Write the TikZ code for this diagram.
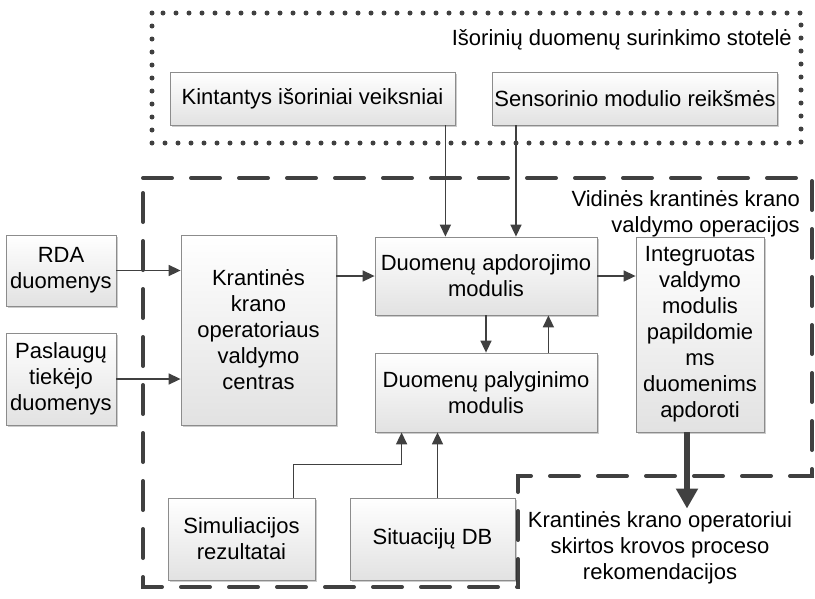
\documentclass[tikz,border=0pt]{standalone}
\usepackage{fontspec}
\setmainfont{Liberation Sans}
\usetikzlibrary{
  arrows.meta,
  calc,
  shadows
}
\definecolor{lineGray}{HTML}{404040}
\definecolor{boxGray}{HTML}{8C8C8C}
\definecolor{fillGray}{HTML}{E2E2E2}
\tikzset{
  box/.style      = {rectangle, draw=boxGray, line width=0.8pt,
                     top color=white, bottom color=fillGray,
                     drop shadow={shadow xshift=1.5pt, shadow yshift=-1.5pt,
                                  opacity=0.2, fill=black},
                     align=center, inner sep=2pt,
                     font=\fontsize{22}{26}\selectfont},
  arrow/.style    = {-{Triangle[length=12pt, width=11pt]}, line width=1.6pt,
                     draw=lineGray},
  bigArrow/.style = {-{Triangle[length=20pt, width=21pt]}, line width=6pt,
                     draw=lineGray},
  dotFrame/.style = {draw=lineGray, line width=5pt, line cap=round,
                     dash pattern=on 0pt off 13pt},
  dashFrame/.style= {draw=lineGray, line width=4pt, line cap=round,
                     dash pattern=on 29pt off 19pt},
  frameTitle/.style = {font=\fontsize{22}{26}\selectfont, inner sep=0pt}
}
\begin{document}
\begin{tikzpicture}[x=1pt, y=-1pt]
  \useasboundingbox (0,0) rectangle (815,598);
  % Frames: external station (dots) and internal operations (dashes)
  \draw[dotFrame] (152,13) rectangle (801,143);
  \draw[dashFrame] (143,178) -- (812,178) -- (812,476) -- (518,476)
                   -- (518,587) -- (143,587) -- cycle;
  \node[frameTitle, anchor=east] (extTitle) at (792,40)
       {Išorinių duomenų surinkimo stotelė};
  \node[frameTitle, anchor=north east, align=right] (intTitle) at (800,190)
       {Vidinės krantinės krano\\valdymo operacijos};
  % External sources
  \node[box, minimum width=285pt, minimum height=53pt] (kint) at (312.5,98.5)
       {Kintantys išoriniai veiksniai};
  \node[box, minimum width=284pt, minimum height=53pt] (sens) at (635,98.5)
       {Sensorinio modulio reikšmės};
  \node[box, minimum width=110pt, minimum height=71pt] (rda) at (61,270.5)
       {RDA\\duomenys};
  \node[box, minimum width=110pt, minimum height=92pt] (pasl) at (61,379)
       {Paslaugų\\tiekėjo\\duomenys};
  % Internal modules
  \node[box, minimum width=155pt, minimum height=190pt] (oper) at (258.5,330)
       {Krantinės\\krano\\operatoriaus\\valdymo\\centras};
  \node[box, minimum width=222pt, minimum height=78pt] (apdor) at (486,276)
       {Duomenų apdorojimo\\modulis};
  \node[box, minimum width=222pt, minimum height=79pt] (palyg) at (486,392.5)
       {Duomenų palyginimo\\modulis};
  \node[box, minimum width=128pt, minimum height=195pt] (integ) at (700,334.5)
       {Integruotas\\valdymo\\modulis\\papildomie\\ms\\duomenims\\apdoroti};
  \node[box, minimum width=147pt, minimum height=82pt] (simul) at (241.5,539)
       {Simuliacijos\\rezultatai};
  \node[box, minimum width=165pt, minimum height=82pt] (situa) at (432.5,539)
       {Situacijų DB};
  \node[frameTitle, align=center, inner sep=3pt] (rekom) at (660,548)
       {Krantinės krano operatoriui\\skirtos krovos proceso\\rekomendacijos};
  % Connections
  \draw[arrow] ([xshift=-10pt]kint.south east)
               -- ([xshift=-10pt]kint.south east |- apdor.north);
  \draw[arrow] ([xshift=24pt]sens.south west)
               -- ([xshift=24pt]sens.south west |- apdor.north);
  \draw[arrow] (rda) -- (rda -| oper.west);
  \draw[arrow] (pasl) -- (pasl -| oper.west);
  \draw[arrow] (oper.east |- apdor) -- (apdor.west);
  \draw[arrow] (apdor.east) -- (apdor -| integ.west);
  \draw[arrow] (apdor) -- (palyg);
  \draw[arrow] ([xshift=-49pt]palyg.north east)
               -- ([xshift=-49pt]apdor.south east);
  \draw[arrow] ([xshift=52pt]simul.north) -- ++(0,-33)
               -| ([xshift=27pt]palyg.south west);
  \draw[arrow] ([xshift=5pt]situa.north)
               -- ([xshift=5pt]situa.north |- palyg.south);
  \draw[bigArrow] ([xshift=-13pt]integ.south)
                  -- ([xshift=-13pt]integ.south |- rekom.north);
\end{tikzpicture}
\end{document}
